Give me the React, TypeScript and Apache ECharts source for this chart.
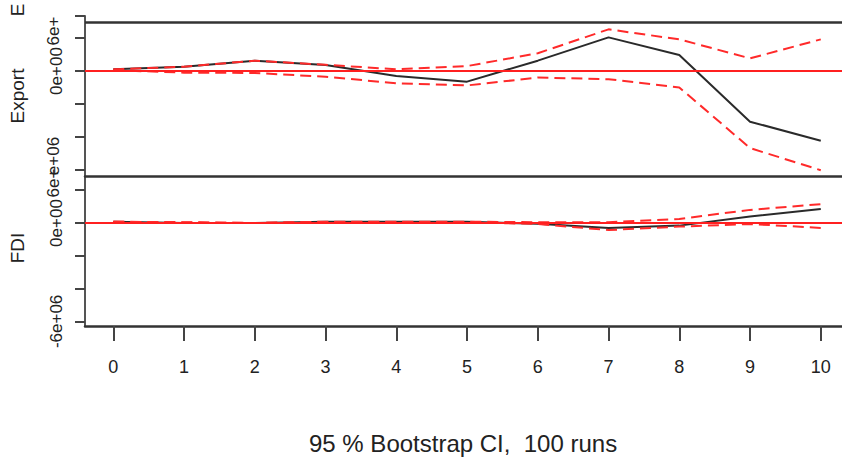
import React, { useEffect, useRef } from "react";
import * as echarts from "echarts";

// ---------- data (values in units of 1e6) ----------
const horizons = [0, 1, 2, 3, 4, 5, 6, 7, 8, 9, 10];
const exportIrf = [0.1, 0.26, 0.63, 0.36, -0.3, -0.65, 0.63, 2.05, 0.98, -3.09, -4.25];
const exportUpper = [0.1, 0.26, 0.63, 0.38, 0.1, 0.3, 1.08, 2.54, 1.93, 0.77, 1.93];
const exportLower = [0.05, -0.1, -0.12, -0.35, -0.75, -0.88, -0.4, -0.5, -1.0, -4.7, -6.05];
const fdiIrf = [0.08, 0.0, 0.0, 0.08, 0.08, 0.08, -0.05, -0.3, -0.16, 0.4, 0.85];
const fdiUpper = [0.08, 0.05, 0.0, 0.08, 0.08, 0.08, 0.05, 0.05, 0.25, 0.8, 1.15];
const fdiLower = [0.08, 0.03, 0.0, 0.06, 0.06, 0.05, -0.06, -0.43, -0.22, -0.06, -0.3];
const yTicks = [-6, -4, -2, 0, 2];
const panelNames = ["Export", "FDI"];
const titleText = "95 % Bootstrap CI,  100 runs";

// ---------- layout ----------
const W = 842;
const H = 462;
const LEFT = 82;
const PX_PER_UNIT = 16.4; // px per 1e6
const X_MIN = -0.4;
const X_MAX = 10.3;
const FONT = "'Liberation Sans', Arial, sans-serif";
const TXT = "#222";

const panels = [
  { top: 16, bottom: 176, zeroY: 71, boxTopY: 22 },
  { top: 170, bottom: 326, zeroY: 223, boxTopY: null as number | null },
];

const toPairs = (ys: number[]) => horizons.map((h, i) => [h, ys[i] * 1e6]);

export default function App() {
  const ref = useRef<HTMLDivElement>(null);
  useEffect(() => {
    if (!ref.current) return;
    const chart = echarts.init(ref.current, undefined, { renderer: "svg" });

    const grids = panels.map((p) => ({
      left: LEFT,
      right: 0,
      top: p.top,
      height: p.bottom - p.top,
    }));

    const yAxes = panels.map((p, i) => {
      const max = ((p.zeroY - p.top) / PX_PER_UNIT) * 1e6;
      const min = (-(p.bottom - p.zeroY) / PX_PER_UNIT) * 1e6;
      return {
        type: "value",
        gridIndex: i,
        min,
        max,
        name: panelNames[i],
        nameLocation: "middle",
        nameRotate: 90,
        nameGap: 58,
        nameTextStyle: { fontSize: 19, color: TXT, fontFamily: FONT },
        splitLine: { show: false },
        axisLine: { show: true, onZero: false, lineStyle: { color: "#555", width: 2 } },
        axisTick: {
          show: true,
          length: 10,
          customValues: [...yTicks.map((v) => v * 1e6), max],
          lineStyle: { color: "#444", width: 2 },
        },
        axisLabel: {
          show: true,
          rotate: 90,
          margin: 20,
          fontSize: 17,
          color: TXT,
          fontFamily: FONT,
          customValues: i === 0 ? [0] : [-6e6, 0],
          formatter: (v: number) => (Math.abs(v) < 1 ? "0e+00" : "-6e+06"),
        },
      };
    });

    const xAxes = panels.map((p, i) => ({
      type: "value",
      gridIndex: i,
      min: X_MIN,
      max: X_MAX,
      splitLine: { show: false },
      axisLine: { show: true, onZero: false, lineStyle: { color: "#333", width: 2.5 } },
      axisTick: {
        show: i === 1,
        length: 15,
        customValues: horizons,
        lineStyle: { color: "#444", width: 2 },
      },
      axisLabel: {
        show: i === 1,
        margin: 32,
        fontSize: 18,
        color: TXT,
        fontFamily: FONT,
        customValues: horizons,
      },
    }));

    const panelData = [
      [exportIrf, exportUpper, exportLower],
      [fdiIrf, fdiUpper, fdiLower],
    ];

    const series: any[] = [];
    panels.forEach((p, i) => {
      const [irf, up, lo] = panelData[i];
      series.push({
        type: "line",
        xAxisIndex: i,
        yAxisIndex: i,
        data: toPairs(irf),
        symbol: "none",
        lineStyle: { color: "#2a2a2a", width: 2 },
        z: 2,
      });
      const marks: any[] = [
        { yAxis: 0, lineStyle: { color: "#ff2020", width: 2, type: "solid" } },
      ];
      if (p.boxTopY !== null) {
        marks.push({
          yAxis: ((p.zeroY - (p.boxTopY as number)) / PX_PER_UNIT) * 1e6,
          lineStyle: { color: "#333", width: 2.5, type: "solid" },
        });
      }
      series.push({
        type: "line",
        xAxisIndex: i,
        yAxisIndex: i,
        data: [],
        symbol: "none",
        z: 3,
        markLine: {
          silent: true,
          symbol: "none",
          label: { show: false },
          data: marks,
          animation: false,
        },
      });
      [up, lo].forEach((arr) =>
        series.push({
          type: "line",
          xAxisIndex: i,
          yAxisIndex: i,
          data: toPairs(arr),
          symbol: "none",
          lineStyle: { color: "#ff2a2a", width: 2, type: [11, 6] },
          z: 4,
        })
      );
    });

    const frag = (text: string, x: number, y: number, size = 17) => ({
      type: "text",
      x,
      y,
      rotation: Math.PI / 2,
      style: {
        text,
        fontSize: size,
        fill: TXT,
        fontFamily: FONT,
        align: "center",
        verticalAlign: "middle",
      },
    });

    chart.setOption({
      animation: false,
      backgroundColor: "#fff",
      grid: grids,
      xAxis: xAxes,
      yAxis: yAxes,
      series,
      title: {
        text: titleText,
        left: 309,
        top: 431,
        padding: 0,
        textStyle: { fontSize: 24, fontWeight: "normal", color: TXT, fontFamily: FONT },
      },
      graphic: [
        frag("E", 17, 10, 19),
        frag("6e+", 53, 31),
        frag("e+06", 53, 156),
        frag("6e+", 53, 183),
      ],
    });
    return () => chart.dispose();
  }, []);
  return (
    <div
      ref={ref}
      style={{ position: "fixed", left: 0, top: 0, width: W, height: H, background: "#fff" }}
    />
  );
}
